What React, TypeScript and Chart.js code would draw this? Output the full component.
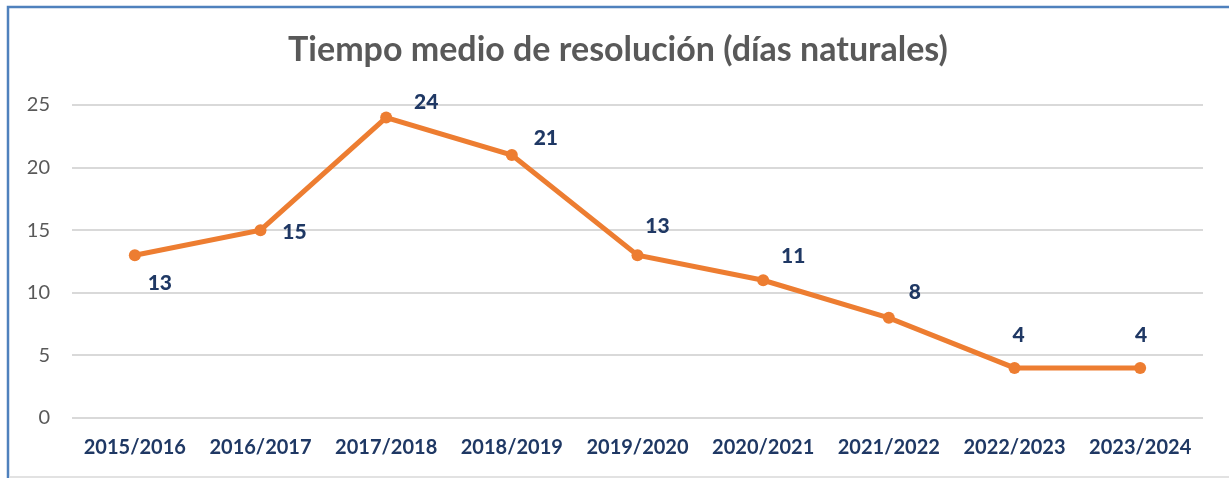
import React, { useEffect, useRef } from "react";
import { Chart, registerables } from "chart.js";

Chart.register(...registerables);

const categories = [
  "2015/2016",
  "2016/2017",
  "2017/2018",
  "2018/2019",
  "2019/2020",
  "2020/2021",
  "2021/2022",
  "2022/2023",
  "2023/2024",
];
const values = [13, 15, 24, 21, 13, 11, 8, 4, 4];
const yTicks = [0, 5, 10, 15, 20, 25];
const titleText = "Tiempo medio de resolución (días naturales)";

// label offsets (style only) relative to each point, in px
const labelDx = [25, 34, 40, 34, 20, 30, 26, 4, 1];
const labelDy = [28, 2, -15, -17, -29, -24, -26, -33, -33];

const FONT = "Lato, 'Open Sans', sans-serif";

const framePlugin = {
  id: "frame",
  beforeDraw(chart: any) {
    const { ctx, width, height } = chart;
    ctx.save();
    ctx.fillStyle = "#ffffff";
    ctx.fillRect(0, 0, width, height);
    ctx.strokeStyle = "#d9d9d9";
    ctx.lineWidth = 1.5;
    ctx.beginPath();
    ctx.moveTo(10, height - 1);
    ctx.lineTo(width, height - 1);
    ctx.stroke();
    ctx.strokeStyle = "#4f81bd";
    ctx.lineWidth = 2.5;
    ctx.beginPath();
    ctx.moveTo(8, height);
    ctx.lineTo(8, 7);
    ctx.lineTo(width, 7);
    ctx.stroke();
    // title
    ctx.font = `bold 34px ${FONT}`;
    ctx.fillStyle = "#595959";
    ctx.textAlign = "center";
    ctx.textBaseline = "middle";
    ctx.fillText(titleText, 618, 50);
    ctx.restore();
  },
};

const labelPlugin = {
  id: "pointLabels",
  afterDatasetsDraw(chart: any) {
    const { ctx } = chart;
    const meta = chart.getDatasetMeta(0);
    ctx.save();
    ctx.font = `900 21px ${FONT}`;
    ctx.fillStyle = "#1f3864";
    ctx.textAlign = "center";
    ctx.textBaseline = "middle";
    meta.data.forEach((pt: any, i: number) => {
      ctx.fillText(String(values[i]), pt.x + labelDx[i], pt.y + labelDy[i]);
    });
    ctx.restore();
  },
};

export default function App() {
  const ref = useRef<HTMLCanvasElement>(null);
  useEffect(() => {
    document.body.style.margin = "0";
    const chart = new Chart(ref.current!, {
      type: "line",
      data: {
        labels: categories,
        datasets: [
          {
            data: values,
            borderColor: "#ed7d31",
            backgroundColor: "#ed7d31",
            borderWidth: 5,
            pointRadius: 6,
            pointBackgroundColor: "#ed7d31",
            pointBorderWidth: 0,
            tension: 0,
          },
        ],
      },
      options: {
        responsive: false,
        animation: false,
        layout: { padding: { left: 0, right: 26, top: 105, bottom: 0 } },
        plugins: {
          legend: { display: false },
          tooltip: { enabled: false },
          title: { display: false },
        },
        scales: {
          x: {
            offset: true,
            grid: { display: false, drawTicks: false },
            border: { display: false },
            ticks: {
              color: "#1f3864",
              font: { family: FONT, size: 20, weight: "bold" },
              padding: 18,
              maxRotation: 0,
            },
          },
          y: {
            min: 0,
            max: 25,
            afterBuildTicks(scale: any) {
              scale.ticks = yTicks.map((v) => ({ value: v }));
            },
            afterFit(scale: any) {
              scale.width = 72;
            },
            grid: { color: "#d9d9d9", lineWidth: 2, drawTicks: false },
            border: { display: false },
            ticks: {
              color: "#595959",
              font: { family: FONT, size: 20 },
              padding: 22,
            },
          },
        },
      },
      plugins: [framePlugin, labelPlugin],
    });
    return () => chart.destroy();
  }, []);
  return <canvas ref={ref} width={1229} height={478} style={{ display: "block" }} />;
}
